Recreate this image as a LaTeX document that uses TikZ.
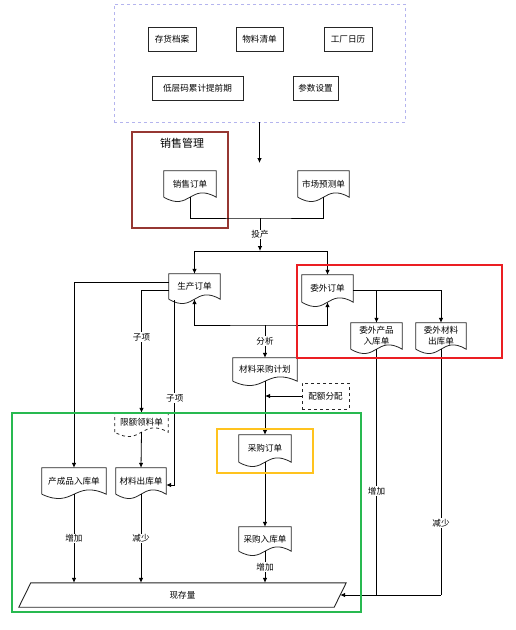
\documentclass[tikz,border=0pt]{standalone}
\usepackage{fontspec}
\newfontfamily\cjk{Noto Sans CJK SC}
\usetikzlibrary{arrows.meta,calc}
\tikzset{
  txt/.style={font=\cjk\fontsize{8.6}{11}\selectfont},
  docn/.style={txt, inner sep=0pt, align=center},
  boxn/.style={txt, draw=black!85, line width=1pt, inner sep=0pt, align=center},
  framen/.style={inner sep=0pt, line width=1.2pt},
  docline/.style={draw=black!85, line width=0.8pt},
  conn/.style={line width=0.8pt},
  arr/.style={conn, -{Latex[length=5pt,width=4.5pt]}},
  lbl/.style={txt, fill=white, inner sep=1pt},
}
\newcommand{\docdraw}[2][]{\draw[docline,#1] (#2.south west) -- (#2.north west) -- (#2.north east) -- (#2.south east) .. controls ($(#2.south)+(0,-15)$) and ($(#2.south)+(0,15)$) .. (#2.south west);}
\begin{document}
\begin{tikzpicture}[x=1pt,y=-1pt]
\useasboundingbox (0,0) rectangle (515,630);
\fill[white] (0,0) rectangle (515,630);

% top settings box
\node[framen, draw={rgb,255:red,180;green,180;blue,238}, dashed, line width=0.8pt, minimum width=291, minimum height=118] (topbox) at (259.5,63) {};
\node[boxn, minimum width=48, minimum height=24] (chda) at (172,39) {存货档案};
\node[boxn, minimum width=47, minimum height=24] (wlqd) at (259.5,39) {物料清单};
\node[boxn, minimum width=48, minimum height=24] (gcrl) at (348,39) {工厂日历};
\node[boxn, minimum width=91, minimum height=24] (dcm) at (197.5,88) {低层码累计提前期};
\node[boxn, minimum width=45, minimum height=24] (cssz) at (315.5,88) {参数设置};
\coordinate (topend) at (259.5,163);
\draw[arr] (topbox.south) -- (topend);

% sales management
\node[framen, draw={rgb,255:red,150;green,55;blue,50}, minimum width=96, minimum height=96] (xsgl) at (180,180) {};
\node[txt, font=\cjk\fontsize{11}{13}\selectfont, inner sep=0pt] (xsgltitle) at (182,143) {销售管理};

% documents
\node[docn, minimum width=52, minimum height=26] (xsdd) at (190,184) {销售订单};
\node[docn, minimum width=51, minimum height=26] (scyc) at (323.5,184) {市场预测单};
\node[docn, minimum width=51, minimum height=25] (scdd) at (194.5,286.5) {生产订单};
\node[docn, minimum width=51, minimum height=27] (wwdd) at (327.5,288.5) {委外订单};
\node[docn, minimum width=51, minimum height=26] (wwcp) at (376.5,336) {委外产品\\入库单};
\node[docn, minimum width=50, minimum height=26] (wwcl) at (441,336) {委外材料\\出库单};
\node[docn, minimum width=64, minimum height=23] (clcg) at (265,369.5) {材料采购计划};
\node[docn, minimum width=53, minimum height=19] (xell) at (141.5,422.5) {限额领料单};
\node[docn, minimum width=64, minimum height=26] (ccrk) at (74,481) {产成品入库单};
\node[docn, minimum width=50, minimum height=26] (clck) at (141,481) {材料出库单};
\node[docn, minimum width=52, minimum height=27] (cgdd) at (265,448.5) {采购订单};
\node[docn, minimum width=52, minimum height=24] (cgrk) at (265,539) {采购入库单};
\docdraw{xsdd}
\docdraw{scyc}
\docdraw{scdd}
\docdraw{wwdd}
\docdraw{wwcp}
\docdraw{wwcl}
\docdraw{clcg}
\docdraw[dashed]{xell}
\docdraw{ccrk}
\docdraw{clck}
\docdraw{cgdd}
\docdraw{cgrk}

% quota box
\node[boxn, dashed, line width=0.8pt, minimum width=47, minimum height=26] (pefp) at (325.5,396) {配额分配};

% stock parallelogram
\node[txt, inner sep=0pt, minimum width=327, minimum height=24] (xcl) at (182.5,595) {现存量};
\draw[docline, line width=0.9pt] ($(xcl.north west)+(12,0)$) -- (xcl.north east) -- ($(xcl.south east)+(-12,0)$) -- (xcl.south west) -- cycle;

% connectors
\coordinate (j1) at (260,218);
\coordinate (j2) at (260,251);
\coordinate (j3) at (265,325);
\draw[conn] (xsdd.south) |- (j1) -| (scyc.south);
\draw[arr] (j1) -- node[lbl] (ltc) {投产} (j2);
\draw[arr] (j2) -| (scdd.north);
\draw[arr] (j2) -| (wwdd.north);
\draw[conn, {Latex[length=5pt,width=4.5pt]}-{Latex[length=5pt,width=4.5pt]}] (scdd.south) |- (j3) -| (wwdd.south);
\draw[arr] (j3) -- node[lbl] (lfx) {分析} (clcg.north);
\draw[arr] ($(wwdd.east)+(0,1.5)$) -| (wwcp.north);
\draw[arr] ($(wwdd.east)+(0,1.5)$) -| (wwcl.north);
\draw[arr] (clcg.south) -- (cgdd.north);
\draw[arr] (pefp.west) -- (pefp.west -| clcg.south);
\draw[arr] (cgdd.south) -- (cgrk.north);
\draw[arr] (cgrk.south) -- node[lbl] (lzj3) {增加} (cgrk.south |- xcl.north);

\draw[arr] ($(scdd.north west)+(0,9)$) -| (ccrk.north);
\draw[arr] ($(scdd.north west)+(0,17)$) -| node[lbl, pos=0.69] (lzx1) {子项} (xell.north);
\draw[arr] ($(scdd.south west)+(6,1)$) |- node[lbl, pos=0.265] (lzx2) {子项} ($(clck.east)+(0,4)$);
\draw[arr] (xell.south) -- (clck.north);
\draw[arr] (ccrk.south) -- node[lbl] (lzj1) {增加} (ccrk.south |- xcl.north);
\draw[arr] (clck.south) -- node[lbl] (ljs1) {减少} (clck.south |- xcl.north);

\coordinate (xarr) at ($(xcl.east)+(-6,0)$);
\draw[conn] (wwcp.south) -- node[lbl, pos=0.577] (lzj2) {增加} (wwcp.south |- xarr);
\draw[conn] (wwcl.south) -- node[lbl, pos=0.707] (ljs2) {减少} (wwcl.south |- xarr);
\draw[arr] (wwcl.south |- xarr) -- (xarr);

% frames
\node[framen, draw={rgb,255:red,235;green,30;blue,35}, minimum width=205, minimum height=93] (wwbox) at (399.5,311.5) {};
\node[framen, draw={rgb,255:red,40;green,185;blue,80}, minimum width=349, minimum height=199] (greenbox) at (186.5,512.5) {};
\node[framen, draw={rgb,255:red,255;green,195;blue,30}, minimum width=96, minimum height=44] (ybox) at (265,451) {};
\end{tikzpicture}
\end{document}
